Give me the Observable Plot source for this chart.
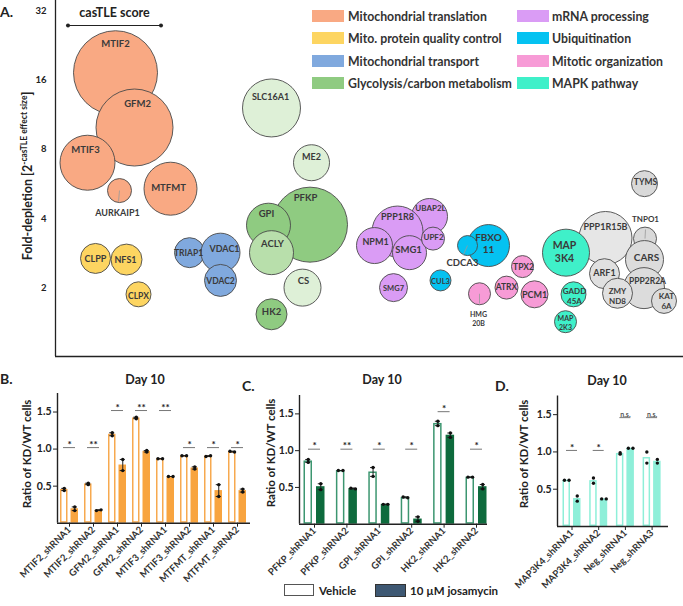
<!DOCTYPE html>
<html><head><meta charset="utf-8">
<script src="https://cdn.jsdelivr.net/npm/d3@7"></script>
<script src="https://cdn.jsdelivr.net/npm/@observablehq/plot@0.6"></script>
<style>
body{margin:0;background:#fff;font-family:Lato,"Open Sans",sans-serif;font-weight:bold;color:#222;}
#root{position:relative;width:683px;height:606px;overflow:hidden;background:#fff;}
.abs{position:absolute;white-space:nowrap;}
.rot{transform:translate(-50%,-50%) rotate(-90deg);}
.ctr{transform:translate(-50%,-50%);}
.sw{position:absolute;width:32px;height:12px;}
.lg{position:absolute;font-size:12.3px;transform:translateY(-50%);white-space:nowrap;color:#333;}
svg{position:absolute;}
</style></head><body><div id="root"></div>
<script>
// ---------------- Panel A data ----------------
const groupNames = ["Mitochondrial translation","Mito. protein quality control","Mitochondrial transport","Glycolysis/carbon metabolism","mRNA processing","Ubiquitination","Mitotic organization","MAPK pathway"];
const groupColors = ["#F9A983","#FDD561","#80A9DE","#8FCB81","#DA9CF5","#05C2F1","#F79BD6","#3FF0C9"];

const genes = ["MTIF2","GFM2","MTIF3","AURKAIP1","MTFMT","CLPP","NFS1","CLPX","TRIAP1","VDAC1","VDAC2",
  "SLC16A1","ME2","PFKP","GPI","ACLY","CS","HK2",
  "UBAP2L","PPP1R8","NPM1","SMG1","UPF2","SMG7",
  "CUL3","FBXO11","CDCA3","TPX2","ATRX","PCM1","HMG20B",
  "PPP1R15B","MAP3K4","GADD45A","MAP2K3","TYMS","TNPO1","CARS","ARF1","PPP2R2A","ZMYND8","KAT6A"];
const geneGroup = [0,0,0,0,0,1,1,1,2,2,2, 3,3,3,3,3,3,3, 4,4,4,4,4,4, 5,5,5,6,6,6,6, 8,7,7,7,8,8,8,8,8,8,8];
const foldDepletion = [17.2,9.95,7.0,5.3,5.4,2.69,2.66,1.88,2.85,2.85,2.16,
  12.1,7.0,3.77,3.75,2.85,2.01,1.54,
  4.09,3.52,3.06,2.85,3.28,2.01,
  2.16,3.06,3.06,2.48,2.01,1.88,1.89,
  3.30,2.85,1.88,1.43,5.68,3.28,2.66,2.31,2.0,1.90,1.76];
const casTLEScore = [84,77,55,24,53,30,31,25,30,39,32,
  58,36,75,44,44,37,31,
  36,51,36,34,23,28,
  21,42,20,22,23,27,22,
  53,47,25,22,26,23,38,30,41,30,25];
// horizontal cluster placement (layout only, no data meaning)
const clusterX = [115,134,87,119,170,95,126,138,189,220,220,
  271,311,309.5,268,271,302,271,
  429,397,374,409,432.5,393,
  440,488,467,522,506,534,479,
  605,565.5,573,565,644,644.5,644,604,643.5,617,663.5];
const bubbleShade = {SLC16A1:"#DEF0D7",ME2:"#DEF0D7",CS:"#DEF0D7",ACLY:"#B8DFAB",
  PPP1R15B:"#E6E6E6",TYMS:"#D9D9D9",TNPO1:"#D9D9D9",CARS:"#DCDCDC",ARF1:"#E0E0E0",PPP2R2A:"#DCDCDC",ZMYND8:"#E0E0E0",KAT6A:"#DCDCDC"};

const labelText = ["MTIF2","GFM2","MTIF3","AURKAIP1","MTFMT","CLPP","NFS1","CLPX","TRIAP1","VDAC1","VDAC2",
  "SLC16A1","ME2","PFKP","GPI","ACLY","CS","HK2",
  "UBAP2L","PPP1R8","NPM1","SMG1","UPF2","SMG7",
  "CUL3","FBXO\n11","CDCA3","TPX2","ATRX","PCM1","HMG\n20B",
  "PPP1R15B","MAP\n3K4","GADD\n45A","MAP\n2K3","TYMS","TNPO1","CARS","ARF1","PPP2R2A","ZMY\nND8","KAT\n6A"];
const labelX = [115,137,85,117,168,95,125,138,188,224,220, 270,311,305,266,272,303,271, 430,397,375,408,433,393, 440,488,462,523,506,534,478, 605,564,574,565,645,645,646,604,647,617,666];
const labelY = [43,103,149,212,187,258,259,295,252,248,280, 96,156,197,213,243,280,311, 207,216,241,249,236,287, 280,242.5,262,266,286,294,318, 226,250.5,295.5,322,181,218,256,272,280,295,300.5];
const labelSize = [9.5,9.5,9.5,9,9.5,9,9,8.5,8.5,9,8.5, 9,9,9.5,9.5,9.5,9.5,9.5, 8,9,9,9.5,8,7.5, 7.5,10,9.5,8.5,8.5,9,7, 9,10.5,8,7,8.5,8,10,9,8.5,8,8];

const leaderGenes = ["AURKAIP1","CDCA3","HMG20B","TNPO1"];
const leaderEndX = [118,463,479,645];
const leaderEndY = [201,254,303,229];

const casTLEReference = 93; // scale bar score
const yTicksA = [2,4,8,16,32];

// ---------------- Panels B-D data ----------------
const catsB = ["MTIF2_shRNA1","MTIF2_shRNA2","GFM2_shRNA1","GFM2_shRNA2","MTIF3_shRNA1","MTIF3_shRNA2","MTFMT_shRNA1","MTFMT_shRNA2"];
const vehB = [[0.47,0.44],[0.54,0.52],[1.22,1.18],[1.43,1.41],[0.87,0.87],[0.91,0.91],[0.90,0.91],[0.97,0.96]];
const josB = [[0.22,0.17],[0.17,0.18],[0.86,0.71],[0.98,0.96],[0.63,0.63],[0.76,0.73],[0.52,0.36],[0.46,0.42]];
const sigB = ["*","**","*","**","**","*","*","*"];
const sigLevelB = [1.02,1.02,1.52,1.52,1.52,1.02,1.02,1.02];

const catsC = ["PFKP_shRNA1","PFKP_shRNA2","GPI_shRNA1","GPI_shRNA2","HK2_shRNA1","HK2_shRNA2"];
const vehC = [[0.88,0.84],[0.73,0.73],[0.77,0.65],[0.37,0.36],[1.40,1.34],[0.64,0.64]];
const josC = [[0.55,0.47],[0.49,0.48],[0.27,0.27],[0.10,0.04],[1.24,1.18],[0.54,0.48]];
const sigC = ["*","**","*","*","*","*"];
const sigLevelC = [1.02,1.02,1.02,1.02,1.53,1.02];

const catsD = ["MAP3K4_shRNA1","MAP3K4_shRNA2","Neg_shRNA1","Neg_shRNA3"];
const vehD = [[0.62,0.62],[0.65,0.58],[0.99,0.97],[1.00,0.85]];
const josD = [[0.41,0.34],[0.37,0.37],[1.05,1.05],[0.90,0.85]];
const sigD = ["*","*","n.s.","n.s."];
const sigLevelD = [1.02,1.02,1.46,1.46];
const yTicksBar = [0.5,1.0,1.5];

// ---------------- build ----------------
const root = document.getElementById("root");
function addDiv(html, style, cls){const d=document.createElement("div");d.className="abs "+(cls||"");d.innerHTML=html;Object.assign(d.style,style);root.appendChild(d);return d;}

// Panel A
const A_H = 362, A_MT = 0, A_MB = 6;
const yDomA = [1.01, 35.4];
function pxToFold(py){const l0=Math.log2(yDomA[0]),l1=Math.log2(yDomA[1]);const t=(A_H-A_MB-py)/(A_H-A_MB-A_MT);return 2**(l0+t*(l1-l0));}

const bubbles = genes.map((g,i)=>({gene:g,x:clusterX[i],fold:foldDepletion[i],score:casTLEScore[i],
  fill: bubbleShade[g] || (geneGroup[i]===8 ? "#E3E3E3" : groupColors[geneGroup[i]])}));
const labels = genes.map((g,i)=>({text:labelText[i],x:labelX[i],y:pxToFold(labelY[i]),size:labelSize[i]}));
const leaders = leaderGenes.map((g,k)=>{const b=bubbles.find(d=>d.gene===g);return {x1:b.x,y1:b.fold,x2:leaderEndX[k],y2:pxToFold(leaderEndY[k])};});

const barY = pxToFold(25);
const barCx = 114;
const plotA = Plot.plot({
  width:683,height:A_H,marginLeft:55,marginRight:0,marginTop:A_MT,marginBottom:A_MB,
  x:{domain:[55,683],axis:null},
  y:{type:"log",base:2,domain:yDomA,axis:null},
  r:{type:"linear",domain:[0,100],range:[0,50]},
  color:{type:"identity"},
  style:{fontFamily:"Lato, sans-serif",fontWeight:"bold",color:"#222",background:"transparent"},
  marks:[
    Plot.axisY({ticks:yTicksA,tickSize:0,tickPadding:9,tickFormat:d=>String(d),fontSize:9.5,label:null}),
    Plot.ruleX([55],{stroke:"#222",strokeWidth:1.3}),
    Plot.ruleY([yDomA[0]],{stroke:"#222",strokeWidth:1.3}),
    Plot.link([casTLEReference],{x1:d=>barCx-d/2,x2:d=>barCx+d/2,y1:()=>barY,y2:()=>barY,stroke:"#222",strokeWidth:1.2,markerStart:"dot",markerEnd:"dot"}),
    Plot.text(["casTLE score"],{x:()=>barCx,y:()=>pxToFold(12),text:d=>d,fontSize:12.5,fill:"#222"}),
    Plot.dot(bubbles,{x:"x",y:"fold",r:"score",fill:"fill",stroke:"#4a4a4a",strokeWidth:0.9,sort:null}),
    Plot.link(leaders,{x1:"x1",y1:"y1",x2:"x2",y2:"y2",stroke:"#999",strokeWidth:0.8}),
    Plot.text(labels,{x:"x",y:"y",text:"text",fontSize:"size",fill:"#3a3a3a",lineHeight:1.25})
  ]
});
plotA.style.left="0px";plotA.style.top="0px";
root.appendChild(plotA);

addDiv("A.",{left:"0px",top:"11px",fontSize:"14px"},"").style.transform="translateY(-50%)";
addDiv('Fold-depletion [2<sup style="font-size:8.5px;vertical-align:5px">-casTLE effect size</sup>]',{left:"27px",top:"176px",fontSize:"12.5px",color:"#222"},"rot");

// legend A
const legRowsY=[16,38,61,83];
groupNames.forEach((n,i)=>{
  const col=Math.floor(i/4), row=i%4;
  const sx = col? 517:312, tx = col? 552:348;
  const s=document.createElement("div");s.className="sw";Object.assign(s.style,{left:sx+"px",top:(legRowsY[row]-6)+"px",background:groupColors[i]});root.appendChild(s);
  const t=document.createElement("div");t.className="lg";t.textContent=n;Object.assign(t.style,{left:tx+"px",top:legRowsY[row]+"px"});root.appendChild(t);
});

// bar panels
function barPanel(cfg){
  const n=cfg.cats.length;
  const bw=cfg.barW/cfg.step, g=cfg.gap/2/cfg.step;
  const bars=[], dots=[], errs=[];
  const dOff=2.3/cfg.step, capW=2.5/cfg.step;
  cfg.cats.forEach((c,i)=>{
    [["veh",cfg.veh[i]],["jos",cfg.jos[i]]].forEach(([cond,reps])=>{
      const x1 = cond==="veh"? i-g-bw : i+g, x2 = x1+bw, cx=(x1+x2)/2;
      const m=d3.mean(reps);
      bars.push({cond,x1,x2,m});
      const side = Math.abs(reps[0]-reps[1])<0.015;
      reps.forEach((v,j)=>dots.push({x: side? cx+(j?dOff:-dOff):cx, y:v}));
      errs.push({cx,lo:d3.min(reps),hi:d3.max(reps)});
    });
  });
  const sig = cfg.sig.map((s,i)=>({i,s,y:cfg.levels[i]}));
  const xd=[(cfg.axisL-cfg.first)/cfg.step,(cfg.axisR-cfg.first)/cfg.step];
  const H=236;
  const marks=[
    Plot.axisY({ticks:yTicksBar,tickFormat:d3.format(".1f"),tickSize:4,tickPadding:2,fontSize:10.5,label:null}),
    Plot.axisX({ticks:d3.range(n),tickFormat:i=>cfg.cats[i],tickRotate:-45,tickSize:4,tickPadding:1,fontSize:9.5,fill:"#333",label:null}),
    Plot.rect(bars.filter(d=>d.cond==="veh"),{x1:"x1",x2:"x2",y1:0,y2:"m",fill:"white",stroke:cfg.open,strokeWidth:1.5,inset:0.75}),
    Plot.rect(bars.filter(d=>d.cond==="jos"),{x1:"x1",x2:"x2",y1:0,y2:"m",fill:cfg.fill}),
  ];
  if(cfg.errors){
    marks.push(Plot.ruleX(errs,{x:"cx",y1:"lo",y2:"hi",stroke:"#222",strokeWidth:1}));
    marks.push(Plot.ruleY(errs,{x1:d=>d.cx-capW,x2:d=>d.cx+capW,y:"hi",stroke:"#222",strokeWidth:1}));
    marks.push(Plot.ruleY(errs,{x1:d=>d.cx-capW,x2:d=>d.cx+capW,y:"lo",stroke:"#222",strokeWidth:1}));
  }
  marks.push(Plot.dot(dots,{x:"x",y:"y",r:1.7,fill:"#111"}));
  marks.push(Plot.ruleY(sig,{x1:d=>d.i-cfg.sigHalf/cfg.step,x2:d=>d.i+cfg.sigHalf/cfg.step,y:"y",stroke:"#777",strokeWidth:1}));
  marks.push(Plot.text(sig.filter(d=>d.s!=="n.s."),{x:"i",y:"y",text:"s",dy:-3,fontSize:10,fill:"#222"}));
  marks.push(Plot.text(sig.filter(d=>d.s==="n.s."),{x:"i",y:"y",text:"s",dy:-3,fontSize:7,fill:"#555"}));
  marks.push(Plot.ruleX([xd[0]],{stroke:"#222",strokeWidth:1.4}));
  marks.push(Plot.ruleY([0],{stroke:"#222",strokeWidth:1.4}));
  const p=Plot.plot({
    width:cfg.w,height:H,marginLeft:cfg.axisL-cfg.left,marginRight:cfg.left+cfg.w-cfg.axisR,
    marginTop:cfg.top-370,marginBottom:370+H-cfg.zero,
    x:{domain:xd,axis:null},y:{domain:[0,1.75],axis:null},
    style:{fontFamily:"Lato, sans-serif",fontWeight:"bold",color:"#222",background:"transparent",overflow:"visible"},
    marks
  });
  p.style.left=cfg.left+"px";p.style.top="370px";
  root.appendChild(p);
}
barPanel({cats:catsB,veh:vehB,jos:josB,sig:sigB,levels:sigLevelB,left:0,w:255,axisL:57,axisR:250,first:69,step:24,barW:7.5,gap:3,top:393,zero:522.7,open:"#F7A94F",fill:"#F8A43F",errors:true,sigHalf:6});
barPanel({cats:catsC,veh:vehC,jos:josC,sig:sigC,levels:sigLevelC,left:258,w:232,axisL:299,axisR:487,first:314,step:32.4,barW:8.5,gap:4,top:395,zero:523.7,open:"#3C9670",fill:"#0E6B3D",errors:true,sigHalf:6});
barPanel({cats:catsD,veh:vehD,jos:josD,sig:sigD,levels:sigLevelD,left:500,w:183,axisL:557,axisR:668,first:571.5,step:26.7,barW:7.5,gap:3,top:395.5,zero:526,open:"#8EEFD9",fill:"#8EEFD9",errors:false,sigHalf:5.5});

// panel titles
[["B.",0,378],["C.",242,385],["D.",495,385]].forEach(([t,x,y])=>{addDiv(t,{left:x+"px",top:y+"px",fontSize:"14px"}).style.transform="translateY(-50%)";});
[[145,379],[382,379],[607,380]].forEach(([x,y])=>addDiv("Day 10",{left:x+"px",top:y+"px",fontSize:"12.5px"},"ctr"));
[[26,454],[270,453],[523,454]].forEach(([x,y])=>addDiv("Ratio of KD/WT cells",{left:x+"px",top:y+"px",fontSize:"11.5px"},"rot"));

// bottom legend
const sw1=document.createElement("div");Object.assign(sw1.style,{position:"absolute",left:"284px",top:"584px",width:"28px",height:"10px",border:"1px solid #555",background:"#fff"});root.appendChild(sw1);
addDiv("Vehicle",{left:"319px",top:"590px",fontSize:"11.5px"}).style.transform="translateY(-50%)";
const sw2=document.createElement("div");Object.assign(sw2.style,{position:"absolute",left:"375px",top:"584px",width:"29px",height:"11px",border:"1px solid #333",background:"#3E5873"});root.appendChild(sw2);
addDiv("10 µM josamycin",{left:"410px",top:"590px",fontSize:"11.5px"}).style.transform="translateY(-50%)";
</script></body></html>
